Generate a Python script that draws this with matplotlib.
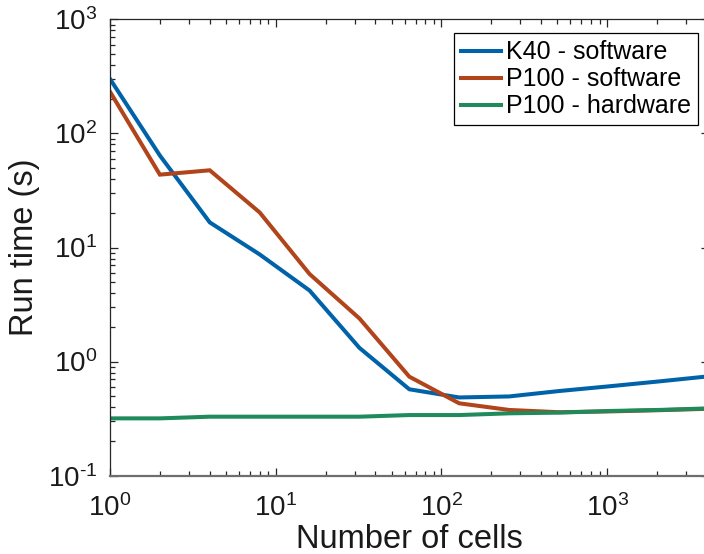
import matplotlib
matplotlib.use("Agg")
import matplotlib.pyplot as plt
from matplotlib.ticker import FixedLocator, FixedFormatter, LogLocator, NullFormatter

plt.rcParams['font.family'] = ['Liberation Sans', 'DejaVu Sans']
plt.rcParams['mathtext.fontset'] = 'custom'
plt.rcParams['mathtext.rm'] = 'Liberation Sans'
plt.rcParams['mathtext.it'] = 'Liberation Sans:italic'
plt.rcParams['mathtext.bf'] = 'Liberation Sans:bold'

# ---- data ----
cells = [1, 2, 4, 8, 16, 32, 64, 128, 256, 512, 1024, 2048, 4096]
k40_software = [300, 64, 16.6, 8.7, 4.2, 1.32, 0.572, 0.485, 0.495, 0.552, 0.607, 0.670, 0.743]
p100_software = [232, 43.5, 47.5, 20.3, 5.86, 2.39, 0.738, 0.431, 0.377, 0.360, 0.366, 0.375, 0.386]
p100_hardware = [0.318, 0.318, 0.329, 0.329, 0.329, 0.329, 0.340, 0.340, 0.352, 0.357, 0.369, 0.377, 0.389]
series_labels = ['K40 - software', 'P100 - software', 'P100 - hardware']
x_tick_vals = [1, 10, 100, 1000]
x_tick_labels = [r'$\mathregular{10^{0}}$', r'$\mathregular{10^{1}}$',
                 r'$\mathregular{10^{2}}$', r'$\mathregular{10^{3}}$']
y_tick_vals = [0.1, 1, 10, 100, 1000]
y_tick_labels = [r'$\mathregular{10^{\text{-}1}}$', r'$\mathregular{10^{0}}$', r'$\mathregular{10^{1}}$',
                 r'$\mathregular{10^{2}}$', r'$\mathregular{10^{3}}$']
colors = ['#0063A9', '#B1441A', '#1F8A5B']

W, H = 704, 554
fig = plt.figure(figsize=(W / 100, H / 100), dpi=100)
left, right, top, bottom = 110, 708.6, 19.3, 475.7
ax = fig.add_axes([left / W, 1 - bottom / H, (right - left) / W, (bottom - top) / H])

for ys, c, lab in zip([k40_software, p100_software, p100_hardware], colors, series_labels):
    ax.plot(cells, ys, color=c, lw=2.9, label=lab, solid_joinstyle='miter')

ax.set_xscale('log')
ax.set_yscale('log')
ax.set_xlim(1, 4096)
ax.set_ylim(0.1, 1000)

ax.xaxis.set_major_locator(FixedLocator(x_tick_vals))
ax.xaxis.set_major_formatter(FixedFormatter(x_tick_labels))
ax.yaxis.set_major_locator(FixedLocator(y_tick_vals))
ax.yaxis.set_major_formatter(FixedFormatter(y_tick_labels))
ax.xaxis.set_minor_locator(LogLocator(base=10, subs=range(2, 10), numticks=20))
ax.yaxis.set_minor_locator(LogLocator(base=10, subs=range(2, 10), numticks=20))
ax.xaxis.set_minor_formatter(NullFormatter())
ax.yaxis.set_minor_formatter(NullFormatter())

axcol = '#262626'
ax.tick_params(which='both', direction='in', top=True, right=True, colors=axcol, width=0.9)
ax.tick_params(which='major', length=6)
ax.tick_params(which='minor', length=3.3)
ax.tick_params(axis='x', which='major', labelsize=20, pad=13, labelcolor='#1a1a1a')
ax.tick_params(axis='y', which='major', labelsize=20, pad=9, labelcolor='#1a1a1a')
for s in ax.spines.values():
    s.set_color(axcol)
    s.set_linewidth(0.9)
ax.spines['bottom'].set_color('#6e6e6e')
ax.spines['bottom'].set_linewidth(1.6)

ax.set_xlabel('Number of cells', fontsize=23.5, color='#1a1a1a', labelpad=2)
ax.set_ylabel('Run time (s)', fontsize=23.5, color='#1a1a1a', labelpad=6)

leg = ax.legend(loc='upper right', bbox_to_anchor=(698.3 / W, 1 - 33.3 / H),
                bbox_transform=fig.transFigure, fontsize=18, frameon=True,
                fancybox=False, framealpha=1, edgecolor='black', borderaxespad=0,
                handlelength=1.6, handletextpad=0.2, labelspacing=0.12, borderpad=0.28)
leg.get_frame().set_linewidth(0.9)

fig.savefig('out.png', dpi=100)
